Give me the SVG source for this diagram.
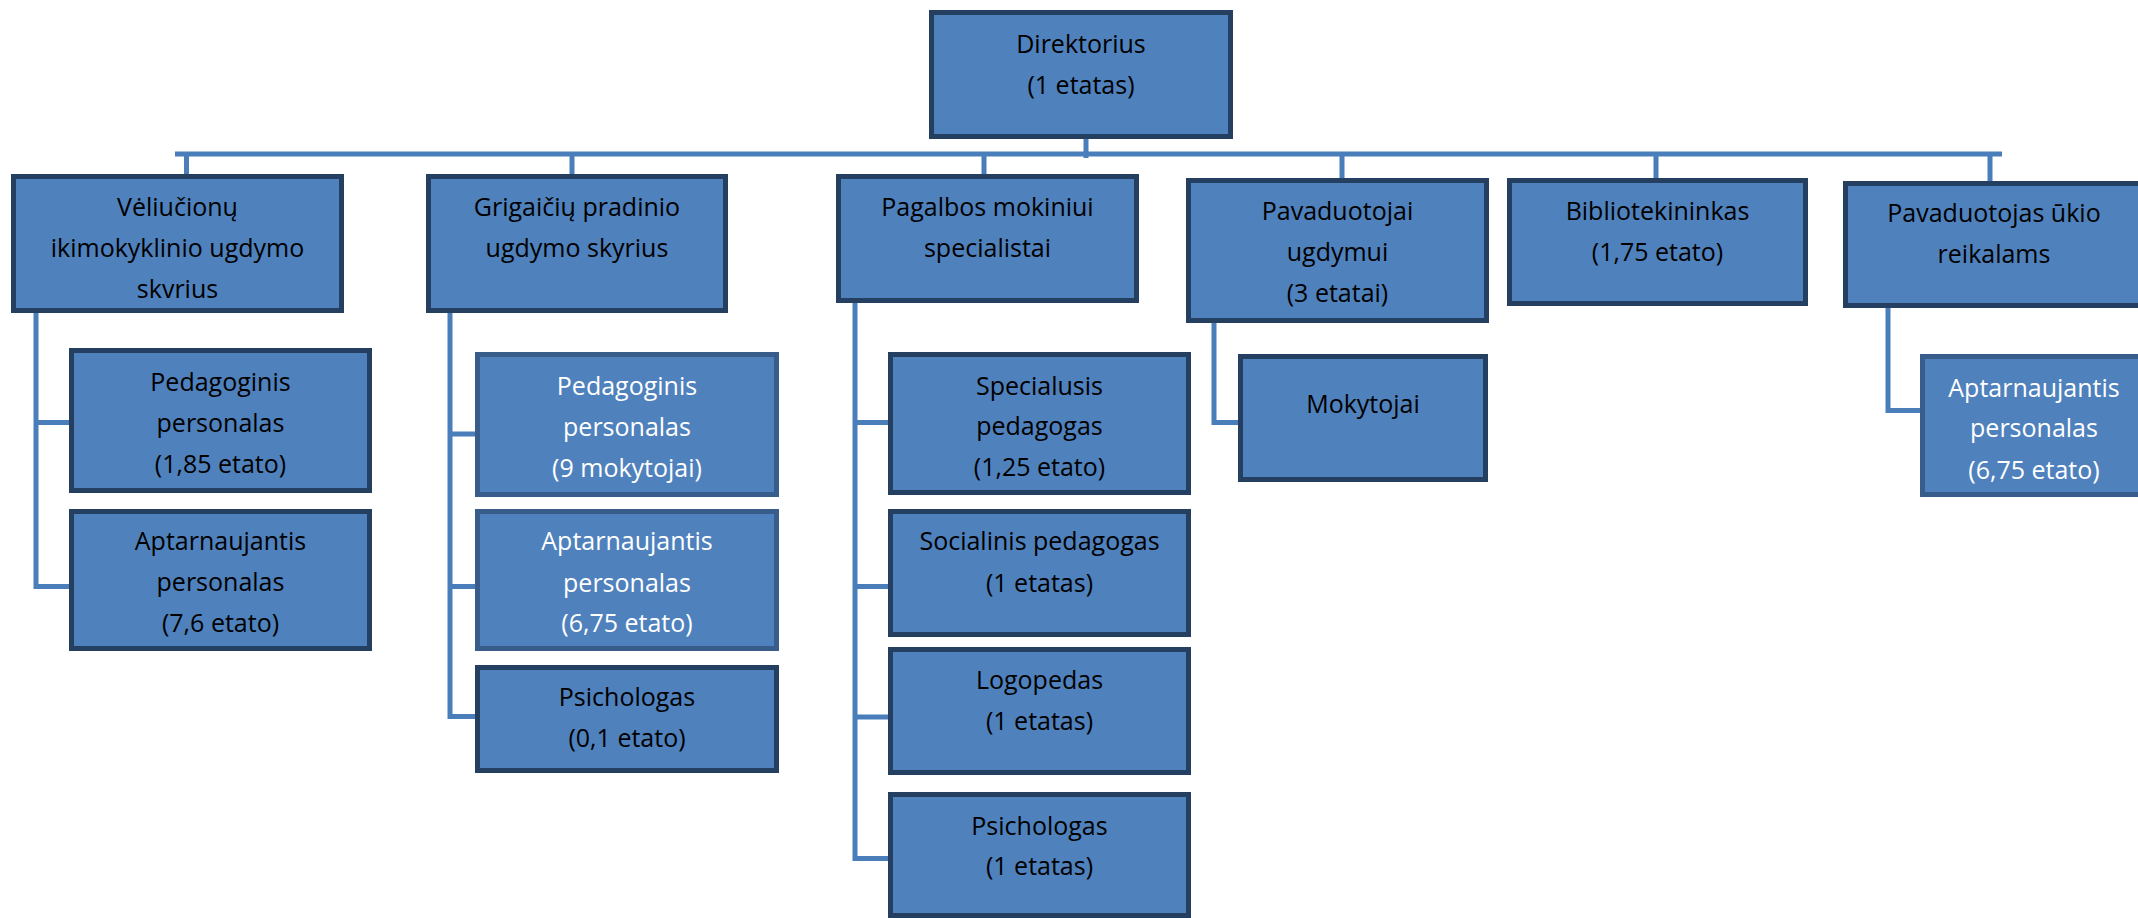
<svg xmlns="http://www.w3.org/2000/svg" width="2138" height="918" viewBox="0 0 2138 918">
<style>
.box{fill:#4F81BD;stroke:#243F60;stroke-width:5}
.box2{fill:#4F81BD;stroke:#385D8A;stroke-width:5}
.t{font-family:"Open Sans","Liberation Sans",sans-serif;font-size:25px;text-anchor:middle;fill:#000}
.w{fill:#fff}
.c{fill:none;stroke:#4A7EBB;stroke-width:5}
</style>
<rect width="2138" height="918" fill="#fff"/>
<g id="connectors">
<path class="c" d="M1086 139V158"/>
<path class="c" d="M175 154H2002"/>
<path class="c" d="M186.5 154V176M572 154V176M984 154V176M1342 154V180M1656 154V180M1990 154V183"/>
<path class="c" d="M36 313V586.5H71M36 422.5H71"/>
<path class="c" d="M450 313V716.5H478M450 434H478M450 586.5H478"/>
<path class="c" d="M855 303V858.5H891M855 422.5H891M855 586.5H891M855 717H891"/>
<path class="c" d="M1214 323V422.5H1241"/>
<path class="c" d="M1888 308V410.5H1923"/>
</g>
<g id="direktorius"><rect class="box" x="931.5" y="12.5" width="299" height="124"/><text class="t" x="1081" y="53">Direktorius</text><text class="t" x="1081" y="94">(1 etatas)</text></g>
<g id="veliucionu"><rect class="box" x="13.5" y="176.5" width="328" height="134"/><text class="t" x="177.5" y="216">Vėliučionų</text><text class="t" x="177.5" y="257">ikimokyklinio ugdymo</text><text class="t" x="177.5" y="298">skvrius</text></g>
<g id="grigaiciu"><rect class="box" x="428.5" y="176.5" width="297" height="134"/><text class="t" x="577" y="216">Grigaičių pradinio</text><text class="t" x="577" y="257">ugdymo skyrius</text></g>
<g id="pagalbos"><rect class="box" x="838.5" y="176.5" width="298" height="124"/><text class="t" x="987.5" y="216">Pagalbos mokiniui</text><text class="t" x="987.5" y="257">specialistai</text></g>
<g id="pavaduotojai"><rect class="box" x="1188.5" y="180.5" width="298" height="140"/><text class="t" x="1337.5" y="220">Pavaduotojai</text><text class="t" x="1337.5" y="261">ugdymui</text><text class="t" x="1337.5" y="302">(3 etatai)</text></g>
<g id="bibliotekininkas"><rect class="box" x="1509.5" y="180.5" width="296" height="123"/><text class="t" x="1657.5" y="220">Bibliotekininkas</text><text class="t" x="1657.5" y="261">(1,75 etato)</text></g>
<g id="ukio"><rect class="box" x="1845.5" y="183.5" width="320" height="122"/><text class="t" x="1994" y="222">Pavaduotojas ūkio</text><text class="t" x="1994" y="263">reikalams</text></g>
<g id="v-pedagoginis"><rect class="box" x="71.5" y="350.5" width="298" height="140"/><text class="t" x="220.5" y="391">Pedagoginis</text><text class="t" x="220.5" y="432">personalas</text><text class="t" x="220.5" y="473">(1,85 etato)</text></g>
<g id="v-aptarnaujantis"><rect class="box" x="71.5" y="511.5" width="298" height="137"/><text class="t" x="220.5" y="550">Aptarnaujantis</text><text class="t" x="220.5" y="591">personalas</text><text class="t" x="220.5" y="632">(7,6 etato)</text></g>
<g id="g-pedagoginis"><rect class="box2" x="477.5" y="354.5" width="299" height="140"/><text class="t w" x="627" y="395">Pedagoginis</text><text class="t w" x="627" y="436">personalas</text><text class="t w" x="627" y="477">(9 mokytojai)</text></g>
<g id="g-aptarnaujantis"><rect class="box2" x="477.5" y="511.5" width="299" height="137"/><text class="t w" x="627" y="550">Aptarnaujantis</text><text class="t w" x="627" y="592">personalas</text><text class="t w" x="627" y="632">(6,75 etato)</text></g>
<g id="g-psichologas"><rect class="box" x="477.5" y="667.5" width="299" height="103"/><text class="t" x="627" y="706">Psichologas</text><text class="t" x="627" y="747">(0,1 etato)</text></g>
<g id="specialusis"><rect class="box" x="890.5" y="354.5" width="298" height="138"/><text class="t" x="1039.5" y="395">Specialusis</text><text class="t" x="1039.5" y="435">pedagogas</text><text class="t" x="1039.5" y="476">(1,25 etato)</text></g>
<g id="socialinis"><rect class="box" x="890.5" y="511.5" width="298" height="123"/><text class="t" x="1039.5" y="550">Socialinis pedagogas</text><text class="t" x="1039.5" y="592">(1 etatas)</text></g>
<g id="logopedas"><rect class="box" x="890.5" y="649.5" width="298" height="123"/><text class="t" x="1039.5" y="689">Logopedas</text><text class="t" x="1039.5" y="730">(1 etatas)</text></g>
<g id="p-psichologas"><rect class="box" x="890.5" y="794.5" width="298" height="121"/><text class="t" x="1039.5" y="835">Psichologas</text><text class="t" x="1039.5" y="875">(1 etatas)</text></g>
<g id="mokytojai"><rect class="box" x="1240.5" y="356.5" width="245" height="123"/><text class="t" x="1363" y="413">Mokytojai</text></g>
<g id="u-aptarnaujantis"><rect class="box2" x="1922.5" y="356.5" width="250" height="138"/><text class="t w" x="2034" y="397">Aptarnaujantis</text><text class="t w" x="2034" y="437">personalas</text><text class="t w" x="2034" y="479">(6,75 etato)</text></g>
</svg>
